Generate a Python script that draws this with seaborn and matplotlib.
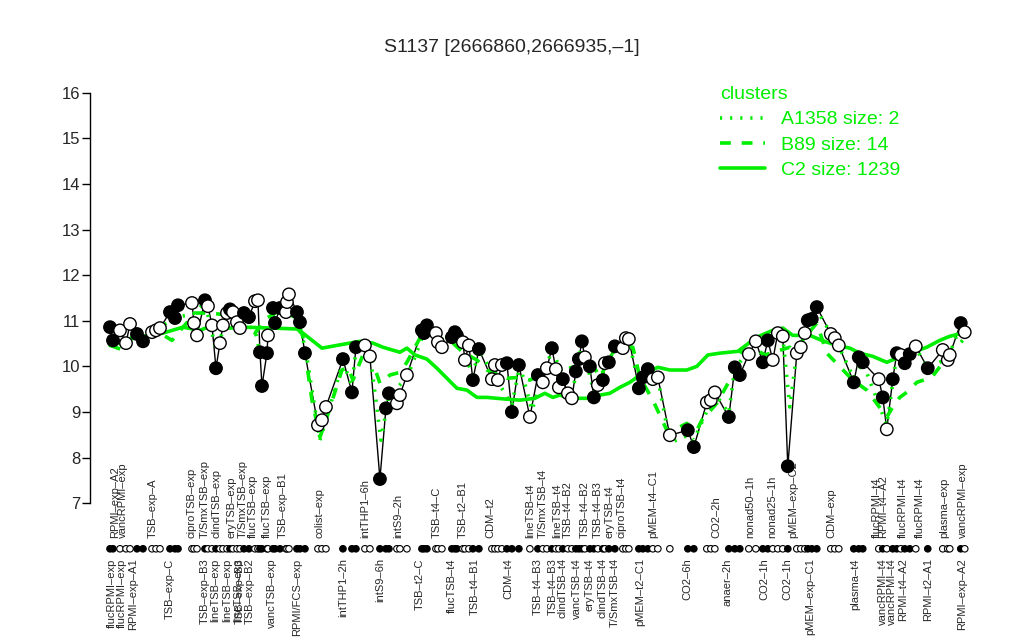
import pandas as pd
import matplotlib
matplotlib.use('Agg')
import matplotlib.pyplot as plt
import seaborn as sns
from matplotlib.lines import Line2D

# ── data ─────────────────────────────────────────
# probe positions (arbitrary units along the locus)
probe_pos = [110, 113, 120, 126, 130, 137, 143, 152, 156, 160,
             170, 175, 178, 192, 194, 197, 205, 208, 212, 216,
             220, 223, 227, 230, 233, 237, 240, 244, 249, 255,
             258, 260, 262, 267, 268, 273, 275, 280, 286, 287,
             289, 297, 300, 305, 318, 322, 326, 343, 352, 356,
             365, 370, 380, 386, 389, 397, 400, 407, 422, 424,
             427, 436, 438, 442, 452, 455, 457, 463, 465, 469,
             473, 479, 492, 495, 498, 502, 507, 512, 519, 530,
             538, 543, 547, 552, 556, 559, 563, 568, 572, 576,
             579, 582, 585, 590, 594, 598, 603, 605, 609, 615,
             623, 626, 629, 639, 643, 648, 653, 658, 670, 688,
             694, 707, 711, 715, 729, 735, 740, 749, 756, 763,
             768, 773, 778, 783, 788, 797, 801, 805, 808, 812,
             817, 831, 835, 839, 854, 859, 863, 879, 883, 887,
             893, 897, 901, 905, 910, 916, 928, 943, 948, 950,
             961, 965]
expr = [10.86, 10.57, 10.79, 10.51, 10.93, 10.71, 10.55, 10.75, 10.79, 10.84,
        11.19, 11.06, 11.34, 11.39, 10.95, 10.68, 11.45, 11.32, 10.90, 9.96,
        10.51, 10.90, 11.17, 11.25, 11.19, 10.97, 10.84, 11.17, 11.08, 11.43,
        11.45, 10.31, 9.57, 10.29, 10.68, 11.28, 10.95, 11.28, 11.19, 11.41,
        11.58, 11.19, 10.97, 10.29, 8.71, 8.82, 9.11, 10.16, 9.43, 10.42,
        10.46, 10.22, 7.53, 9.08, 9.41, 9.19, 9.37, 9.81, 10.79, 10.73,
        10.90, 10.73, 10.53, 10.42, 10.64, 10.75, 10.68, 10.53, 10.14, 10.46,
        9.70, 10.38, 9.72, 10.03, 9.70, 10.03, 10.07, 9.00, 10.03, 8.89,
        9.81, 9.65, 9.96, 10.40, 9.94, 9.54, 9.72, 9.41, 9.30, 9.89,
        10.16, 10.55, 10.20, 10.00, 9.32, 9.59, 9.70, 10.07, 10.09, 10.44,
        10.40, 10.62, 10.60, 9.52, 9.76, 9.94, 9.72, 9.76, 8.49, 8.60,
        8.23, 9.21, 9.26, 9.43, 8.89, 9.98, 9.81, 10.27, 10.55, 10.09,
        10.57, 10.14, 10.73, 10.66, 7.81, 10.29, 10.42, 10.73, 11.01, 11.04,
        11.30, 10.71, 10.62, 10.46, 9.65, 10.20, 10.09, 9.72, 9.32, 8.62,
        9.72, 10.29, 10.25, 10.07, 10.27, 10.44, 9.96, 10.36, 10.14, 10.25,
        10.95, 10.75]
# 1 = filled (black) probe, 0 = open probe
filled = [1, 1, 0, 0, 0, 1, 1, 0, 0, 0,
          1, 1, 1, 0, 0, 0, 1, 0, 0, 1,
          0, 0, 0, 1, 0, 0, 0, 1, 1, 0,
          0, 1, 1, 1, 0, 1, 1, 1, 0, 0,
          0, 1, 1, 1, 0, 0, 0, 1, 1, 1,
          0, 0, 1, 1, 1, 0, 0, 0, 1, 1,
          1, 0, 0, 0, 1, 1, 1, 0, 0, 0,
          1, 1, 0, 0, 0, 0, 1, 1, 1, 0,
          1, 0, 0, 1, 0, 0, 1, 0, 0, 1,
          1, 1, 0, 1, 1, 0, 1, 0, 1, 1,
          0, 0, 0, 1, 1, 1, 0, 0, 0, 1,
          1, 0, 0, 0, 1, 1, 1, 0, 0, 1,
          1, 0, 0, 0, 1, 0, 0, 0, 1, 1,
          1, 0, 0, 0, 1, 1, 1, 0, 1, 0,
          1, 1, 0, 1, 1, 0, 1, 0, 0, 0,
          1, 0]

# cluster profiles
c2_pos = [110, 137, 163, 183, 200, 210, 230, 243, 273, 297,
          303, 322, 337, 360, 373, 383, 400, 407, 415, 427,
          437, 447, 457, 467, 477, 487, 507, 520, 535, 545,
          553, 560, 570, 587, 600, 610, 620, 630, 637, 647,
          658, 670, 687, 697, 708, 720, 738,
          757, 773, 783, 793, 810, 822, 837, 850, 860, 873,
          887, 897, 913, 927, 940, 950, 963]
c2_val = [10.46, 10.64, 10.73, 10.86, 10.79, 10.88, 10.84, 10.86, 10.84, 10.82,
          10.73, 10.40, 10.46, 10.55, 10.51, 10.42, 10.31, 10.40, 10.25, 10.16,
          9.96, 9.74, 9.52, 9.48, 9.32, 9.32, 9.28, 9.26, 9.30, 9.41,
          9.32, 9.37, 9.30, 9.30, 9.37, 9.41, 9.54, 9.65, 9.76, 9.87,
          9.98, 9.92, 9.92, 10.00, 10.25, 10.29, 10.33,
          10.64, 10.79, 10.84, 10.68, 10.68, 10.57, 10.46, 10.40, 10.29, 10.22,
          10.09, 10.18, 10.31, 10.42, 10.57, 10.66, 10.73]

b89_pos = [110, 123, 133, 143, 160, 172, 195, 210, 230, 255,
           267, 280, 297, 303, 312, 320, 325, 342, 348, 353,
           365, 372, 380, 390, 400, 407, 420, 437, 450, 463,
           477, 487, 507, 520, 530, 545, 563, 580, 593, 600,
           617, 633, 640, 653, 667, 677, 687, 697, 702, 717,
           730, 740, 747, 757, 765, 790, 793, 817, 827, 853,
           867, 887, 893, 900, 910, 917, 932, 953, 963]
b89_val = [10.46, 10.36, 10.68, 10.64, 10.73, 10.57, 11.17, 11.17, 11.12, 10.73,
           11.06, 11.23, 11.06, 10.64, 9.26, 8.45, 8.75, 9.92, 9.98, 9.70,
           10.36, 10.14, 9.63, 9.81, 9.87, 10.09, 10.62, 10.62, 10.57, 10.31,
           10.14, 9.92, 9.74, 9.76, 9.70, 9.87, 9.92, 10.03, 10.03, 9.76,
           10.46, 10.42, 9.76, 9.26, 8.60, 8.64, 8.75, 8.60, 8.82, 9.19,
           9.70, 10.29, 10.36, 10.36, 10.25, 10.42, 10.31, 10.95, 10.29, 9.70,
           9.48, 8.89, 9.11, 9.32, 9.48, 9.65, 9.76, 10.36, 10.57]

a1358_pos = [110, 125, 150, 175, 195, 205, 216, 230, 255, 261,
             275, 289, 305, 320, 343, 352, 356, 370, 381, 389,
             407, 424, 442, 457, 473, 479, 512, 520, 532, 552,
             572, 582, 594, 615, 629, 639, 658, 670, 688, 694,
             715, 729, 735, 756, 768, 783, 790, 797, 817, 839,
             854, 863, 887, 897, 916, 928, 948, 961, 965]
a1358_val = [10.57, 10.46, 10.73, 11.06, 11.17, 11.41, 10.36, 11.19, 10.79, 10.20,
             11.12, 11.45, 10.46, 8.38, 10.09, 9.59, 10.36, 10.29, 8.38, 9.37,
             9.74, 10.73, 10.42, 10.66, 9.81, 10.36, 9.15, 10.03, 9.04, 10.36,
             9.37, 10.51, 9.43, 10.40, 10.57, 9.59, 9.74, 8.32, 8.49, 8.38,
             9.41, 8.97, 9.96, 10.53, 10.53, 10.64, 9.11, 10.31, 11.23, 10.44,
             9.74, 10.09, 8.71, 10.25, 10.40, 9.96, 10.18, 10.90, 10.73]

# condition labels under the plot
top_label_pos = [115, 123, 153, 192, 205, 217, 232, 243, 253, 267, 283, 320, 365,
                 398, 437, 463, 490, 530, 543, 557, 568, 585, 598, 610, 622, 653,
                 717, 750, 772, 793, 832, 877, 883, 903, 920, 945, 963]
top_labels = ['RPMI–exp–A2', 'vancRPMI–exp', 'TSB–exp–A', 'ciproTSB–exp',
              'T/SmxTSB–exp', 'clindTSB–exp', 'eryTSB–exp', 'T/SmxTSB–exp',
              'flucTSB–exp', 'flucTSB–exp', 'TSB–exp–B1', 'colist–exp',
              'intTHP1–6h', 'intS9–2h', 'TSB–t4–C', 'TSB–t2–B1', 'CDM–t2',
              'lineTSB–t4', 'T/SmxTSB–t4', 'lineTSB–t4', 'TSB–t4–B2', 'TSB–t4–B2',
              'TSB–t4–B3', 'eryTSB–t4', 'ciproTSB–t4', 'pMEM–t4–C1', 'CO2–2h',
              'nonad50–1h', 'nonad25–1h', 'pMEM–exp–C2', 'CDM–exp', 'flucRPMI–t4',
              'RPMI–t4–A2', 'flucRPMI–t4', 'flucRPMI–t4', 'plasma–exp', 'vancRPMI–exp']
bottom_label_pos = [112, 122, 133, 170, 205, 215, 227, 238, 240, 250, 272, 297,
                    343, 380, 420, 452, 475, 508, 538, 553, 563, 577, 590, 603,
                    615, 640, 688, 728, 765, 788, 810, 855, 883, 892, 903, 928, 962]
bottom_labels = ['flucRPMI–exp', 'flucRPMI–exp', 'RPMI–exp–A1', 'TSB–exp–C',
                 'TSB–exp–B3', 'lineTSB–exp', 'lineTSB–exp', 'lineTSB–exp',
                 'TSB–exp–B3', 'TSB–exp–B2', 'vancTSB–exp', 'RPMI/FCS–exp',
                 'intTHP1–2h', 'intS9–6h', 'TSB–t2–C', 'flucTSB–t4', 'TSB–t4–B1',
                 'CDM–t4', 'TSB–t4–B3', 'TSB–t4–B3', 'clindTSB–t4', 'vancTSB–t4',
                 'eryTSB–t4', 'clindTSB–t4', 'T/SmxTSB–t4', 'pMEM–t2–C1', 'CO2–6h',
                 'anaer–2h', 'CO2–1h', 'CO2–1h', 'pMEM–exp–C1', 'plasma–t4',
                 'vancRPMI–t4', 'vancRPMI–t4', 'RPMI–t4–A2', 'RPMI–t2–A1', 'RPMI–exp–A2']

# ── plot ─────────────────────────────────────────
sns.set_style('white')
plt.rcParams['font.family'] = ['Liberation Sans', 'DejaVu Sans']
GREEN = '#00EE00'

df = pd.DataFrame({'pos': probe_pos, 'expr': expr, 'filled': filled})
df['strip'] = 6.0

fig = plt.figure(figsize=(10.24, 6.4), dpi=100)
ax = fig.add_axes([0.0879, 0.0, 0.864, 0.875])

sns.lineplot(data=df, x='pos', y='expr', sort=False, estimator=None,
             color='black', linewidth=1, ax=ax, zorder=2)
sns.lineplot(x=c2_pos, y=c2_val, sort=False, estimator=None,
             color=GREEN, linewidth=2.6, ax=ax, zorder=3)
sns.lineplot(x=b89_pos, y=b89_val, sort=False, estimator=None,
             color=GREEN, linewidth=2.6, dashes=False, ax=ax, zorder=3,
             linestyle=(0, (3, 3)))
sns.lineplot(x=a1358_pos, y=a1358_val, sort=False, estimator=None,
             color=GREEN, linewidth=2.6, ax=ax, zorder=3,
             linestyle=(0, (0.6, 2.2)))

pal = {1: 'black', 0: 'white'}
sns.scatterplot(data=df, x='pos', y='expr', hue='filled', palette=pal,
                s=80, edgecolor='black', linewidth=1, legend=False, ax=ax, zorder=4)
sns.scatterplot(data=df, x='pos', y='strip', hue='filled', palette=pal,
                s=22, edgecolor='black', linewidth=0.8, legend=False, ax=ax,
                zorder=4, clip_on=False)

for x, t in zip(top_label_pos, top_labels):
    ax.text(x, 6.23, t, rotation=90, ha='center', va='bottom', fontsize=8)
for x, t in zip(bottom_label_pos, bottom_labels):
    ax.text(x, 5.79, t, rotation=90, ha='center', va='top', fontsize=8)

ax.set_xlim(90, 975)
ax.set_ylim(4.0, 16.28)
ax.set_yticks(range(7, 17))
ax.set_yticklabels([str(v) for v in range(7, 17)], fontsize=12)
ax.tick_params(axis='y', length=6, width=1, color='black', direction='out', left=True, pad=1)
ax.set_xticks([])
for s in ['top', 'right', 'bottom']:
    ax.spines[s].set_visible(False)
ax.spines['left'].set_bounds(7, 16)
ax.spines['left'].set_color('black')
ax.spines['left'].set_linewidth(1)
ax.set_xlabel('')
ax.set_ylabel('')

fig.text(0.5, 1 - 47 / 640, 'S1137 [2666860,2666935,–1]', ha='center', va='center', fontsize=14)

handles = [Line2D([], [], color=GREEN, lw=2.6, linestyle=(0, (0.6, 2.2))),
           Line2D([], [], color=GREEN, lw=2.6, linestyle=(0, (3, 3))),
           Line2D([], [], color=GREEN, lw=2.6)]
leg = fig.legend(handles, ['A1358 size: 2', 'B89 size: 14', 'C2 size: 1239'],
                 title='clusters', loc='upper left', bbox_to_anchor=(720 / 1024, 1 - 86 / 640),
                 frameon=False, fontsize=14, title_fontsize=14, handlelength=2.3,
                 handletextpad=0.85, labelspacing=0.4, borderpad=0, borderaxespad=0)
leg._legend_box.align = 'left'
leg.get_title().set_color(GREEN)
for t in leg.get_texts():
    t.set_color(GREEN)

plt.savefig('out.png', dpi=100)
